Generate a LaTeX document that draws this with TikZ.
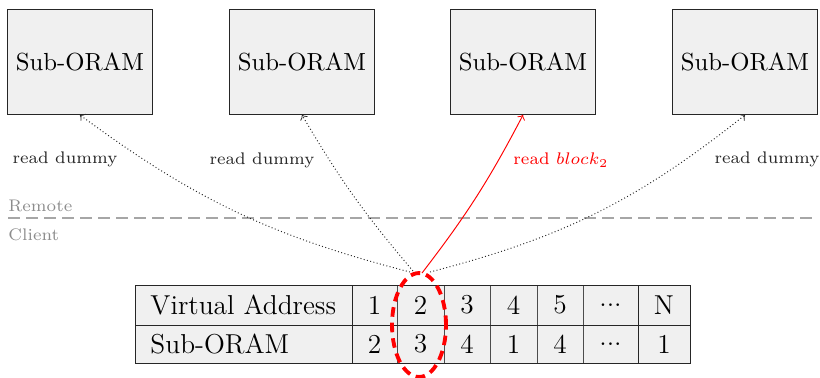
\documentclass[tikz,border=0pt]{standalone}
\usetikzlibrary{shapes.geometric}
\newcommand{\tdd}{...}
\begin{document}
\begin{tikzpicture}[x=0.41667pt,y=-0.41667pt,
  subbox/.style={draw=black!85,fill=black!6,minimum width=60.4pt,minimum height=43.75pt,inner sep=0pt,font=\fontsize{10.3}{12}\selectfont},
  lbl/.style={font=\scriptsize,text=black!85,inner sep=0pt},
  side/.style={font=\scriptsize,text=black!45,inner sep=0pt,anchor=west},
  tfont/.style={font=\fontsize{11.4}{13.5}\selectfont},
  cell/.style={draw=black!70,fill=black!6,inner sep=0pt},
  dum/.style={densely dotted,->,black!85},
]
\useasboundingbox (0,0) rectangle (820,377);
% boxes
\node[subbox] (s1) at (80,62) {Sub-ORAM};
\node[subbox] (s2) at (302,62) {Sub-ORAM};
\node[subbox] (s3) at (523,62) {Sub-ORAM};
\node[subbox] (s4) at (745,62) {Sub-ORAM};
% separator
\coordinate (l0) at (8,218);
\coordinate (l1) at (812,218);
\draw[black!35,line width=0.8pt,dash pattern=on 5pt off 2.5pt] (l0) -- (l1);
\node[side] (rem) at (8,206) {Remote};
\node[side] (cli) at (8,235) {Client};
% table cells
\foreach \a/\b/\n in {135/352/h,352/397/c1,397/444/c2,444/490/c3,490/537/c4,537/583/c5,583/638/c6,638/690/c7}{
  \pgfmathsetmacro{\w}{(\b-\a)*0.41667}
  \node[cell,minimum width=\w pt,minimum height=16.667pt] (\n top) at ({(\a+\b)/2},305) {};
  \node[cell,minimum width=\w pt,minimum height=15.833pt] (\n bot) at ({(\a+\b)/2},344) {};
}
\draw[black!85] (135,285) rectangle (690,363);
\draw[black!85] (135,325) -- (690,325);
\draw[black!85] (352,285) -- (352,363);
\draw[black!85] (638,285) -- (638,363);
\foreach \n/\t/\u in {c1/1/2,c2/2/3,c3/3/4,c4/4/1,c5/5/4,c6/\tdd/\tdd,c7/N/1}{
  \node[tfont] at (\n top) {\t};
  \node[tfont] at (\n bot) {\u};
}
\node[tfont,anchor=west,inner sep=0pt] (va) at (150,305) {Virtual Address};
\node[tfont,anchor=west,inner sep=0pt] (so) at (150,344) {Sub-ORAM};
% ellipse highlight
\node[draw=red,ellipse,line width=1.6pt,dash pattern=on 4pt off 2.5pt,minimum width=22.5pt,minimum height=43.3pt,inner sep=0pt] (ell) at (419,325) {};
% arrows
\coordinate (p1) at (410,272);
\coordinate (p2) at (413,271);
\coordinate (p3) at (422,273);
\coordinate (p4) at (430,272);
\draw[dum] (p1) to[bend left=11] (s1.south);
\draw[dum] (p2) to[bend left=5] (s2.south);
\draw[red,->] (p3) to[bend right=5] (s3.south);
\draw[dum] (p4) to[bend right=12] (s4.south);
% labels
\node[lbl] (d1) at (65,159) {read dummy};
\node[lbl] (d2) at (262,160) {read dummy};
\node[lbl,text=red,anchor=west] (d3) at (513,160) {read $block_2$};
\node[lbl] (d4) at (767,159) {read dummy};
\end{tikzpicture}
\end{document}
